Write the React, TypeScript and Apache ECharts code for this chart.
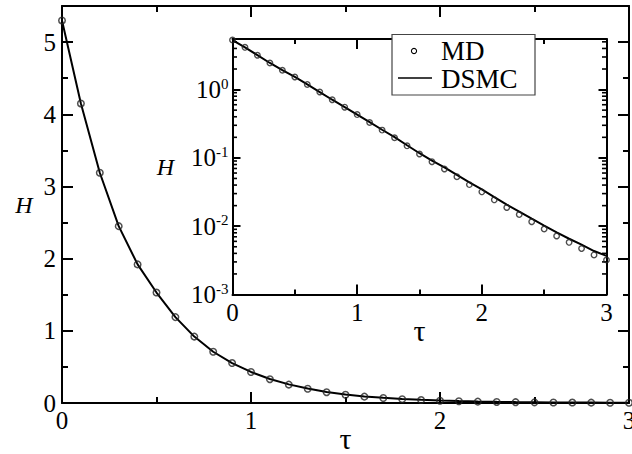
import React, { useEffect, useRef } from 'react';
import * as echarts from 'echarts';

// time values τ
const tau = [
  0, 0.1, 0.2, 0.3, 0.4, 0.5, 0.6, 0.7, 0.8, 0.9, 1.0,
  1.1, 1.2, 1.3, 1.4, 1.5, 1.6, 1.7, 1.8, 1.9, 2.0,
  2.1, 2.2, 2.3, 2.4, 2.5, 2.6, 2.7, 2.8, 2.9, 3.0,
];
// MD (circles)
const mdH = [
  5.30, 4.15, 3.19, 2.45, 1.92, 1.53, 1.19, 0.92, 0.71, 0.553, 0.43,
  0.33, 0.255, 0.197, 0.150, 0.114, 0.088, 0.069, 0.053, 0.0406, 0.0318,
  0.0243, 0.0188, 0.0148, 0.0116, 0.0091, 0.0072, 0.0058, 0.0047, 0.0038, 0.0032,
];
// DSMC (solid line)
const dsmcH = [
  5.30, 4.15, 3.19, 2.45, 1.92, 1.53, 1.19, 0.92, 0.71, 0.553, 0.43,
  0.333, 0.258, 0.201, 0.153, 0.117, 0.0915, 0.0725, 0.0562, 0.0438, 0.0347,
  0.0267, 0.0207, 0.0164, 0.0129, 0.0102, 0.0081, 0.00655, 0.00536, 0.00433, 0.00368,
];
// minor ticks of the inset log axis
const insetMinorTicks = [
  0.002, 0.003, 0.004, 0.005, 0.006, 0.007, 0.008, 0.009,
  0.02, 0.03, 0.04, 0.05, 0.06, 0.07, 0.08, 0.09,
  0.2, 0.3, 0.4, 0.5, 0.6, 0.7, 0.8, 0.9,
  2, 3, 4, 5,
];
const legendNames = ['MD', 'DSMC'];

const serif = 'Times New Roman';

export default function App() {
  const ref = useRef<HTMLDivElement>(null);

  useEffect(() => {
    if (!ref.current) return;
    const chart = echarts.init(ref.current, null, { renderer: 'svg' });

    const mdPts = tau.map((t, i) => [t, mdH[i]]);
    const dsPts = tau.map((t, i) => [t, dsmcH[i]]);

    const axisLine = { show: true, onZero: false, lineStyle: { color: '#000', width: 2 } };

    const mkX = (gridIndex: number, position: string, major: number, minor: number, labels: boolean, name?: string, nameGap?: number) => ({
      type: 'value',
      gridIndex,
      position,
      min: 0,
      max: 3,
      interval: 1,
      axisLine,
      splitLine: { show: false },
      axisTick: { show: true, inside: true, length: major, lineStyle: { color: '#000', width: 2 } },
      minorTick: { show: true, splitNumber: 2, length: minor, lineStyle: { color: '#000', width: 2 } },
      axisLabel: { show: labels, fontSize: 25, fontFamily: serif, color: '#000', margin: 5 },
      name: name || '',
      nameLocation: 'middle',
      nameGap: nameGap || 0,
      nameMoveOverlap: false,
      nameTextStyle: { fontSize: 30, fontFamily: serif, color: '#000', verticalAlign: 'middle' },
    });

    const logLabel = (v: number) => {
      const e = Math.log10(v);
      if (Math.abs(e - Math.round(e)) > 0.01) return '';
      return `{b|10}{s|${Math.round(e)}}`;
    };

    const intLabel = (v: number) => (Math.abs(v - Math.round(v)) < 1e-6 ? String(Math.round(v)) : '');

    const z = 100;

    const option: any = {
      animation: false,
      backgroundColor: '#fff',
      textStyle: { fontFamily: serif },
      grid: [
        { left: 62, right: 3, top: 6, bottom: 51, show: false, outerBoundsMode: 'none' },
        { left: 232.5, right: 25.5, top: 39, bottom: 159.5, show: true, backgroundColor: '#fff', borderWidth: 0, z: 3, outerBoundsMode: 'none' },
      ],
      xAxis: [
        mkX(0, 'bottom', 11, 6, true, 'τ', 35.5),
        mkX(0, 'top', 11, 6, false),
        { ...mkX(1, 'bottom', 10, 5, true, 'τ', 35.5), z: 4 },
        { ...mkX(1, 'top', 10, 5, false), z: 4 },
      ],
      yAxis: [
        {
          type: 'value', gridIndex: 0, position: 'left', min: 0, max: 5.5, interval: 1,
          axisLine, splitLine: { show: false },
          axisTick: { show: true, inside: true, length: 11, lineStyle: { color: '#000', width: 2 } },
          minorTick: { show: true, splitNumber: 2, length: 6, lineStyle: { color: '#000', width: 2 } },
          axisLabel: { fontSize: 25, fontFamily: serif, color: '#000', margin: 6, formatter: intLabel },
          name: 'H', nameLocation: 'middle', nameRotate: 0, nameGap: 38, nameMoveOverlap: false,
          nameTextStyle: { fontSize: 24, fontStyle: 'italic', fontFamily: serif, color: '#000', align: 'center', verticalAlign: 'middle' },
        },
        {
          type: 'value', gridIndex: 0, position: 'right', min: 0, max: 5.5, interval: 1,
          axisLine, splitLine: { show: false },
          axisTick: { show: true, inside: true, length: 11, lineStyle: { color: '#000', width: 2 } },
          minorTick: { show: true, splitNumber: 2, length: 6, lineStyle: { color: '#000', width: 2 } },
          axisLabel: { show: false },
        },
        {
          type: 'log', logBase: 10, gridIndex: 1, position: 'left', min: 0.001, max: 5.5,
          axisLine, splitLine: { show: false }, z: 4,
          axisTick: { show: true, inside: true, length: 8, lineStyle: { color: '#000', width: 2 } },
          axisLabel: {
            margin: 4,
            formatter: logLabel,
            rich: {
              b: { fontSize: 25, fontFamily: serif, color: '#000' },
              s: { fontSize: 15, fontFamily: serif, color: '#000', verticalAlign: 'top', padding: [0, 0, 12, 0] },
            },
          },
          name: 'H', nameLocation: 'middle', nameRotate: 0, nameGap: 67, nameMoveOverlap: false,
          nameTextStyle: { fontSize: 24, fontStyle: 'italic', fontFamily: serif, color: '#000', align: 'center', verticalAlign: 'middle' },
        },
        {
          type: 'log', logBase: 10, gridIndex: 1, position: 'right', min: 0.001, max: 5.5,
          axisLine, splitLine: { show: false }, z: 4,
          axisTick: { show: true, inside: true, length: 8, lineStyle: { color: '#000', width: 2 } },
          axisLabel: { show: false },
        },
      ],
      series: [
        {
          name: legendNames[1], type: 'line', xAxisIndex: 0, yAxisIndex: 0, data: dsPts,
          showSymbol: false, smooth: false,
          lineStyle: { color: '#000', width: 2 }, z: 2,
        },
        {
          name: legendNames[0], type: 'scatter', xAxisIndex: 0, yAxisIndex: 0, data: mdPts,
          symbol: 'circle', symbolSize: 6.5,
          itemStyle: { color: 'none', borderColor: '#222', borderWidth: 1.5 }, z: 3,
        },
        {
          name: legendNames[1], type: 'line', xAxisIndex: 2, yAxisIndex: 2, data: dsPts,
          showSymbol: false, smooth: false,
          lineStyle: { color: '#000', width: 2 }, z: 5,
        },
        {
          name: legendNames[0], type: 'scatter', xAxisIndex: 2, yAxisIndex: 2, data: mdPts,
          symbol: 'circle', symbolSize: 5.5,
          itemStyle: { color: 'none', borderColor: '#222', borderWidth: 1.4 }, z: 6,
        },
        {
          type: 'custom', xAxisIndex: 2, yAxisIndex: 2, silent: true, clip: false, z: 6,
          data: insetMinorTicks.map((v) => [0, v]),
          renderItem: (params: any, api: any) => {
            const v = api.value(1);
            const p1 = api.coord([0, v]);
            const p2 = api.coord([3, v]);
            const style = { stroke: '#000', lineWidth: 1.6 };
            return {
              type: 'group',
              children: [
                { type: 'line', shape: { x1: p1[0], y1: p1[1], x2: p1[0] + 4.5, y2: p1[1] }, style },
                { type: 'line', shape: { x1: p2[0] - 4.5, y1: p2[1], x2: p2[0], y2: p2[1] }, style },
              ],
            };
          },
        },
      ],
      graphic: [
        { type: 'rect', z, shape: { x: 392, y: 34.5, width: 143, height: 60.5 }, style: { fill: '#fff', stroke: '#444', lineWidth: 1.2 } },
        { type: 'circle', z: z + 1, shape: { cx: 414, cy: 51, r: 2.6 }, style: { fill: 'none', stroke: '#000', lineWidth: 1.1 } },
        { type: 'line', z: z + 1, shape: { x1: 398, y1: 78, x2: 432, y2: 78 }, style: { stroke: '#000', lineWidth: 1.6 } },
        { type: 'text', z: z + 1, x: 441, y: 51, style: { text: legendNames[0], fontSize: 27, fontFamily: serif, fill: '#000', verticalAlign: 'middle' } },
        { type: 'text', z: z + 1, x: 441, y: 79, style: { text: legendNames[1], fontSize: 27, fontFamily: serif, fill: '#000', verticalAlign: 'middle' } },
      ],
    };

    chart.setOption(option);
    return () => chart.dispose();
  }, []);

  return (
    <div
      ref={ref}
      style={{ position: 'absolute', left: 0, top: 0, width: 632, height: 454, background: '#fff' }}
    />
  );
}
